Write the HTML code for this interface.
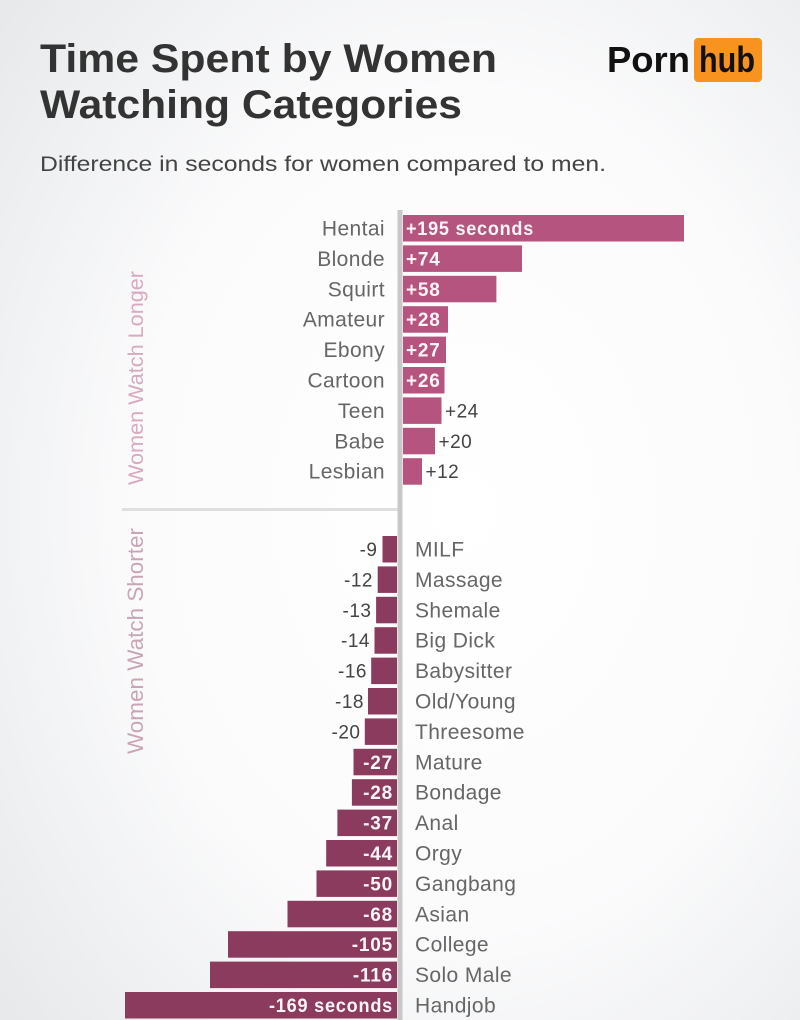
<!DOCTYPE html>
<html>
<head>
<meta charset="utf-8">
<style>
  html,body{margin:0;padding:0;}
  body{width:800px;height:1020px;overflow:hidden;font-family:"Liberation Sans",sans-serif;}
  svg{display:block;}
</style>
</head>
<body>
<svg width="800" height="1020" viewBox="0 0 800 1020" xmlns="http://www.w3.org/2000/svg" font-family="Liberation Sans, sans-serif">
  <defs>
    <radialGradient id="bg" cx="0.58" cy="0.5" r="0.75">
      <stop offset="0" stop-color="#ffffff"/>
      <stop offset="0.55" stop-color="#fbfbfc"/>
      <stop offset="1" stop-color="#e7e9eb"/>
    </radialGradient>
  </defs>
  <rect x="0" y="0" width="800" height="1020" fill="url(#bg)"/>

  <!-- Title -->
  <text x="40" y="72" font-size="40" font-weight="bold" fill="#333" textLength="457" lengthAdjust="spacingAndGlyphs">Time Spent by Women</text>
  <text x="40" y="118" font-size="40" font-weight="bold" fill="#333" textLength="422" lengthAdjust="spacingAndGlyphs">Watching Categories</text>
  <text x="40" y="171" font-size="21" fill="#444" textLength="566" lengthAdjust="spacingAndGlyphs">Difference in seconds for women compared to men.</text>

  <!-- Logo -->
  <text x="607" y="72" font-size="36" font-weight="bold" fill="#111" textLength="83" lengthAdjust="spacingAndGlyphs">Porn</text>
  <rect x="694" y="38" width="68" height="44" rx="4" fill="#f7931e"/>
  <text x="699" y="72" font-size="36" font-weight="bold" fill="#111" textLength="56" lengthAdjust="spacingAndGlyphs">hub</text>

  <!-- Rotated labels -->
  <text transform="translate(143,378) rotate(-90)" text-anchor="middle" font-size="21" fill="#d8aac1" textLength="214" lengthAdjust="spacingAndGlyphs">Women Watch Longer</text>
  <text transform="translate(143,641) rotate(-90)" text-anchor="middle" font-size="22" fill="#c9a5b7" textLength="226" lengthAdjust="spacingAndGlyphs">Women Watch Shorter</text>

  <!-- Divider -->
  <rect x="122" y="508" width="276" height="3" fill="#dfdfdf"/>
  <!-- Axis -->
  <rect x="397.5" y="210" width="5" height="810" fill="#c8c8c8"/>

  <!-- Positive bars -->
  <g fill="#b5547f">
    <rect x="403" y="215" width="281" height="26.5"/>
    <rect x="403" y="245.4" width="119" height="26.5"/>
    <rect x="403" y="275.8" width="93.4" height="26.5"/>
    <rect x="403" y="306.2" width="45" height="26.5"/>
    <rect x="403" y="336.6" width="43" height="26.5"/>
    <rect x="403" y="367" width="41.5" height="26.5"/>
    <rect x="403" y="397.4" width="38.5" height="26.5"/>
    <rect x="403" y="427.8" width="32" height="26.5"/>
    <rect x="403" y="458.2" width="19" height="26.5"/>
  </g>
  <g font-size="21" fill="#666" text-anchor="end" letter-spacing="0.4">
    <text x="385" y="235.5">Hentai</text>
    <text x="385" y="265.9">Blonde</text>
    <text x="385" y="296.3">Squirt</text>
    <text x="385" y="326.7">Amateur</text>
    <text x="385" y="357.1">Ebony</text>
    <text x="385" y="387.5">Cartoon</text>
    <text x="385" y="417.9">Teen</text>
    <text x="385" y="448.3">Babe</text>
    <text x="385" y="478.7">Lesbian</text>
  </g>
  <g font-size="19" font-weight="bold" fill="#fff5f9" letter-spacing="0.8">
    <text x="406" y="235" textLength="128" lengthAdjust="spacingAndGlyphs">+195 seconds</text>
    <text x="406" y="265.4">+74</text>
    <text x="406" y="295.8">+58</text>
    <text x="406" y="326.2">+28</text>
    <text x="406" y="356.6">+27</text>
    <text x="406" y="387">+26</text>
  </g>
  <g font-size="19" fill="#444" letter-spacing="0.5">
    <text x="445" y="417.4">+24</text>
    <text x="438.5" y="447.8">+20</text>
    <text x="425.5" y="478.2">+12</text>
  </g>

  <!-- Negative bars -->
  <g fill="#8a3b5e">
    <rect x="382.5" y="536" width="14.5" height="26.5"/>
    <rect x="377.7" y="566.4" width="19.3" height="26.5"/>
    <rect x="376.1" y="596.8" width="20.9" height="26.5"/>
    <rect x="374.5" y="627.2" width="22.5" height="26.5"/>
    <rect x="371.2" y="657.6" width="25.8" height="26.5"/>
    <rect x="368" y="688" width="29" height="26.5"/>
    <rect x="364.8" y="718.4" width="32.2" height="26.5"/>
    <rect x="353.5" y="748.8" width="43.5" height="26.5"/>
    <rect x="351.9" y="779.2" width="45.1" height="26.5"/>
    <rect x="337.4" y="809.6" width="59.6" height="26.5"/>
    <rect x="326.2" y="840" width="70.8" height="26.5"/>
    <rect x="316.5" y="870.4" width="80.5" height="26.5"/>
    <rect x="287.5" y="900.8" width="109.5" height="26.5"/>
    <rect x="228" y="931.2" width="169" height="26.5"/>
    <rect x="210" y="961.6" width="187" height="26.5"/>
    <rect x="125" y="992" width="272" height="26.5"/>
  </g>
  <g font-size="21" fill="#666" letter-spacing="0.4">
    <text x="415" y="556.5">MILF</text>
    <text x="415" y="586.9">Massage</text>
    <text x="415" y="617.3">Shemale</text>
    <text x="415" y="647.7">Big Dick</text>
    <text x="415" y="678.1">Babysitter</text>
    <text x="415" y="708.5">Old/Young</text>
    <text x="415" y="738.9">Threesome</text>
    <text x="415" y="769.3">Mature</text>
    <text x="415" y="799.7">Bondage</text>
    <text x="415" y="830.1">Anal</text>
    <text x="415" y="860.5">Orgy</text>
    <text x="415" y="890.9">Gangbang</text>
    <text x="415" y="921.3">Asian</text>
    <text x="415" y="951.7">College</text>
    <text x="415" y="982.1">Solo Male</text>
    <text x="415" y="1012.5">Handjob</text>
  </g>
  <g font-size="19" fill="#444" text-anchor="end" letter-spacing="0.5">
    <text x="377.5" y="556">-9</text>
    <text x="373" y="586.4">-12</text>
    <text x="371.5" y="616.8">-13</text>
    <text x="370" y="647.2">-14</text>
    <text x="367" y="677.6">-16</text>
    <text x="364" y="708">-18</text>
    <text x="360.5" y="738.4">-20</text>
  </g>
  <g font-size="19" font-weight="bold" fill="#fff5f9" text-anchor="end" letter-spacing="0.8">
    <text x="393" y="768.8">-27</text>
    <text x="393" y="799.2">-28</text>
    <text x="393" y="829.6">-37</text>
    <text x="393" y="860">-44</text>
    <text x="393" y="890.4">-50</text>
    <text x="393" y="920.8">-68</text>
    <text x="393" y="951.2">-105</text>
    <text x="393" y="981.6">-116</text>
    <text x="393" y="1012" textLength="124" lengthAdjust="spacingAndGlyphs">-169 seconds</text>
  </g>
</svg>
</body>
</html>
